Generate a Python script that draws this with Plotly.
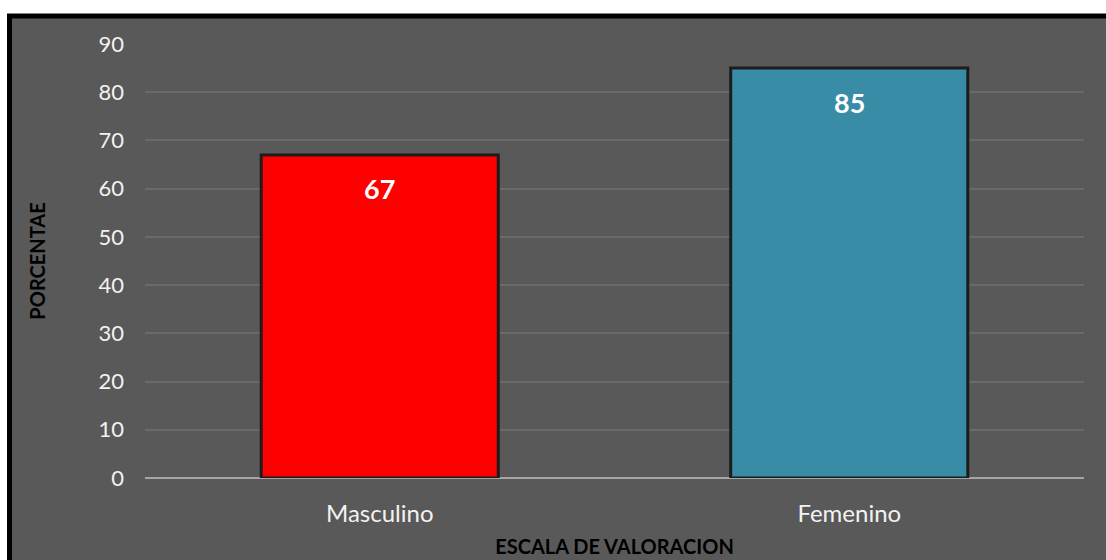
import plotly.graph_objects as go

categories = ["Masculino", "Femenino"]
values = [67, 85]
bar_colors = ["#fe0000", "#388ca6"]
y_ticks = [0, 10, 20, 30, 40, 50, 60, 70, 80, 90]

fig = go.Figure()
fig.add_trace(go.Bar(
    x=categories, y=values,
    marker=dict(color=bar_colors, line=dict(color="#1c1c1c", width=3)),
    width=0.505,
    hoverinfo="skip",
))

for c, v in zip(categories, values):
    fig.add_annotation(x=c, y=v, text=f"<b>{v}</b>", showarrow=False, yshift=-34,
                       font=dict(family="Lato, Open Sans, sans-serif", size=27, color="white"))

# dark chart background with black frame (top/left)
fig.add_shape(type="rect", xref="paper", yref="paper", x0=-0.1443, x1=1.3, y0=-0.4, y1=1.0645,
              fillcolor="#595959", line=dict(color="black", width=5), layer="below")

fig.update_layout(
    width=1106, height=560,
    margin=dict(l=145, r=22, t=44, b=82),
    paper_bgcolor="white",
    plot_bgcolor="rgba(0,0,0,0)",
    showlegend=False,
    bargap=0.495,
    font=dict(family="Lato, Open Sans, sans-serif"),
    xaxis=dict(
        automargin=False,
        tickfont=dict(size=24, color="#f2f2f2"),
        showgrid=False, showline=False, ticks="",
        ticklabelstandoff=19,
        title=dict(text="<b>ESCALA DE VALORACION</b>", font=dict(size=20, color="black"), standoff=13),
    ),
    yaxis=dict(
        automargin=False,
        range=[0, 90], tickvals=y_ticks,
        tickfont=dict(size=22, color="#f2f2f2"),
        gridcolor="#6a6a6a", gridwidth=1.5,
        zeroline=True, zerolinecolor="#a6a6a6", zerolinewidth=2,
        ticks="", ticklabelstandoff=20,
        title=dict(text="<b>PORCENTAE</b>", font=dict(size=20, color="black"), standoff=47),
    ),
)

fig.write_html("out.html", config={"displayModeBar": False},
               post_script="document.body.style.margin='0';")
